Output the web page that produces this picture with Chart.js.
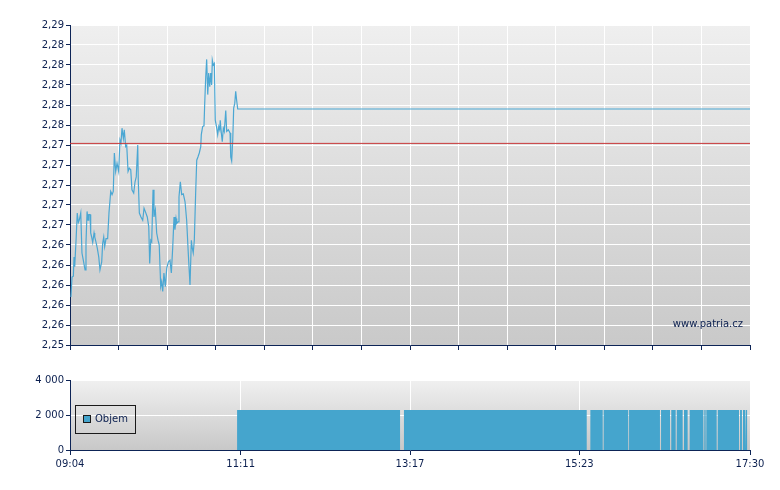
<!DOCTYPE html>
<html>
<head>
<meta charset="utf-8">
<script src="https://cdn.jsdelivr.net/npm/chart.js@4.4.1/dist/chart.umd.min.js"></script>
<style>
  body { margin: 0; background: #fff; width: 780px; height: 490px; position: relative; overflow: hidden; }
  #priceWrap { position: absolute; left: 0; top: 0; width: 780px; height: 360px; }
  #volWrap { position: absolute; left: 0; top: 360px; width: 780px; height: 130px; }
  .legend { position: absolute; left: 75px; top: 405px; width: 59px; height: 27px; border: 1px solid #1a1a1a;
            font: 10px "DejaVu Sans", sans-serif; color: #0b1f4f; }
  .legend i { position: absolute; left: 7px; top: 9px; width: 6px; height: 6px; background: #45a5cd; border: 1px solid #1a1a1a; }
  .legend span { position: absolute; left: 19px; top: 7px; }
</style>
</head>
<body>
<div id="priceWrap"><canvas id="priceChart"></canvas></div>
<div id="volWrap"><canvas id="volChart"></canvas></div>
<div class="legend"><i></i><span>Objem</span></div>
<script>
// minutes after 09:04
const priceMinutes = [
  0.7, 1.5, 2.5, 3.0, 3.5, 4.5, 5.4, 6.2, 6.9, 8.0,
  8.9, 9.9, 11.2, 11.9, 12.7, 13.4, 13.9, 14.9, 15.4, 16.1,
  16.9, 17.9, 18.4, 19.3, 20.3, 21.4, 22.3, 23.6, 24.3, 25.1,
  25.8, 26.8, 28.0, 29.0, 30.3, 31.3, 32.2, 33.0, 34.0, 35.0,
  36.2, 37.2, 37.9, 38.7, 39.7, 40.4, 41.4, 42.2, 43.2, 44.1,
  45.2, 46.1, 47.4, 48.4, 49.3, 50.4, 50.8, 51.6, 52.8, 54.1,
  55.1, 56.0, 57.5, 58.6, 59.3, 60.1, 60.8, 61.8, 62.5, 63.5,
  64.5, 65.5, 66.4, 67.5, 68.2, 69.0, 69.9, 70.9, 72.0, 73.2,
  74.4, 75.4, 76.4, 77.4, 78.1, 78.9, 79.4, 80.4, 81.1, 82.1,
  83.1, 84.3, 85.6, 86.8, 88.0, 89.3, 90.3, 91.0, 91.7, 92.5,
  93.5, 94.3, 95.2, 96.2, 97.3, 97.7, 98.7, 99.7, 100.2, 101.0,
  101.7, 102.5, 103.2, 104.0, 104.7, 105.4, 105.9, 106.6, 107.4, 108.1,
  109.2, 109.9, 110.7, 111.4, 111.8, 112.6, 113.3, 114.1, 114.8, 115.9,
  116.6, 117.8, 119.1, 119.6, 120.3, 121.1, 121.8, 122.6, 123.3, 124.0,
  124.8, 506
];
const priceValues = [
  2.2560, 2.2585, 2.2586, 2.2610, 2.2598, 2.2631, 2.2665, 2.2653, 2.2656, 2.2665,
  2.2615, 2.2606, 2.2594, 2.2628, 2.2667, 2.2656, 2.2663, 2.2663, 2.2640, 2.2635,
  2.2628, 2.2640, 2.2635, 2.2629, 2.2621, 2.2610, 2.2594, 2.2604, 2.2627, 2.2635,
  2.2623, 2.2633, 2.2633, 2.2665, 2.2692, 2.2688, 2.2692, 2.2740, 2.2717, 2.2727,
  2.2717, 2.2756, 2.2752, 2.2771, 2.2758, 2.2769, 2.2748, 2.2750, 2.2717, 2.2721,
  2.2719, 2.2694, 2.2690, 2.2704, 2.2710, 2.2750, 2.2706, 2.2665, 2.2660, 2.2656,
  2.2671, 2.2667, 2.2660, 2.2648, 2.2602, 2.2631, 2.2629, 2.2694, 2.2660, 2.2669,
  2.2640, 2.2631, 2.2625, 2.2573, 2.2579, 2.2567, 2.2590, 2.2573, 2.2596, 2.2604,
  2.2606, 2.2590, 2.2621, 2.2660, 2.2644, 2.2658, 2.2652, 2.2654, 2.2685, 2.2704,
  2.2688, 2.2689, 2.2679, 2.2656, 2.2615, 2.2575, 2.2631, 2.2621, 2.2615, 2.2631,
  2.2690, 2.2731, 2.2735, 2.2740, 2.2748, 2.2763, 2.2773, 2.2774, 2.2800, 2.2835,
  2.2857, 2.2813, 2.2840, 2.2823, 2.2840, 2.2825, 2.2856, 2.2850, 2.2852, 2.2781,
  2.2771, 2.2763, 2.2773, 2.2769, 2.2781, 2.2765, 2.2754, 2.2771, 2.2767, 2.2793,
  2.2767, 2.2769, 2.2765, 2.2735, 2.2730, 2.2756, 2.2796, 2.2802, 2.2817, 2.2806,
  2.2795, 2.2795
];
const prevClose = 2.2752;

const priceTicks = [2.29, 2.2875, 2.285, 2.2825, 2.28, 2.2775, 2.275, 2.2725, 2.27,
                    2.2675, 2.265, 2.2625, 2.26, 2.2575, 2.255, 2.2525, 2.25];
const priceTickLabels = ['2,29', '2,28', '2,28', '2,28', '2,28', '2,28', '2,27', '2,27', '2,27',
                         '2,27', '2,27', '2,26', '2,26', '2,26', '2,26', '2,26', '2,25'];

// volume blocks, minutes after 09:04
const volStart = [124.3, 248.5, 387.2, 397.1, 416.0, 439.8, 447.4, 451.5, 456.9, 461.1, 472.0, 473.5, 482.0, 498.6, 500.8, 503.0];
const volEnd   = [245.6, 384.5, 396.4, 415.4, 439.0, 446.5, 450.7, 455.9, 459.6, 471.3, 473.0, 481.2, 497.8, 500.0, 502.3, 504.0];
const volAmount = [2290, 2290, 2290, 2290, 2290, 2290, 2290, 2290, 2290, 2290, 2290, 2290, 2290, 2290, 2290, 2290];

const volTicks = [0, 2000, 4000];
const volTickLabels = ['0', '2 000', '4 000'];
const timeTicks = [0, 127, 253, 379, 506];
const timeLabels = ['09:04', '11:11', '13:17', '15:23', '17:30'];

const navy = '#0d2456';
Chart.defaults.font.family = '"DejaVu Sans", sans-serif';
Chart.defaults.font.size = 10;
Chart.defaults.color = '#0b1f4f';

const plotBg = {
  id: 'plotBg',
  beforeDraw(chart, args, opts) {
    const { ctx, chartArea: a } = chart;
    const g = ctx.createLinearGradient(0, a.top, 0, a.bottom);
    g.addColorStop(0, opts.top);
    g.addColorStop(1, opts.bottom);
    ctx.save();
    ctx.fillStyle = g;
    ctx.fillRect(a.left, a.top, a.right - a.left, a.bottom - a.top);
    ctx.restore();
  }
};

const watermark = {
  id: 'watermark',
  afterDraw(chart, args, opts) {
    if (!opts.text) return;
    const { ctx, chartArea: a } = chart;
    ctx.save();
    ctx.font = '10px "DejaVu Sans", sans-serif';
    ctx.fillStyle = '#0b1f4f';
    ctx.textAlign = 'right';
    ctx.textBaseline = 'middle';
    ctx.fillText(opts.text, a.right - 7, a.bottom - 21);
    ctx.restore();
  }
};

function axisStyle() {
  return {
    grid: { color: '#ffffff', lineWidth: 1, tickColor: navy, tickLength: 4 },
    border: { color: navy, width: 1 }
  };
}

new Chart(document.getElementById('priceChart'), {
  type: 'line',
  data: {
    datasets: [
      {
        data: [{ x: 0, y: prevClose }, { x: 506, y: prevClose }],
        borderColor: '#c8383a', borderWidth: 1, pointRadius: 0
      },
      {
        data: priceMinutes.map((m, i) => ({ x: m, y: priceValues[i] })),
        borderColor: '#4ba7d3', borderWidth: 1.2, pointRadius: 0, tension: 0
      }
    ]
  },
  options: {
    animation: false,
    responsive: true,
    maintainAspectRatio: false,
    devicePixelRatio: 1,
    layout: { padding: { top: 25, right: 30, left: 0, bottom: 0 } },
    plugins: {
      legend: { display: false },
      tooltip: { enabled: false },
      plotBg: { top: '#efefef', bottom: '#c9c9c9' },
      watermark: { text: 'www.patria.cz' }
    },
    scales: {
      x: {
        type: 'linear', min: 0, max: 506,
        ...axisStyle(),
        grid: { color: '#ffffff', tickColor: navy, tickLength: 5 },
        ticks: { display: false },
        afterBuildTicks: s => { s.ticks = Array.from({ length: 15 }, (_, i) => ({ value: i * 506 / 14 })); },
        afterFit: s => { s.height = 15; }
      },
      y: {
        min: 2.25, max: 2.29,
        ...axisStyle(),
        ticks: { padding: 2, callback: (v, i) => priceTickLabels[i] },
        afterBuildTicks: s => { s.ticks = priceTicks.map(v => ({ value: v })); },
        afterFit: s => { s.width = 70; }
      }
    }
  },
  plugins: [plotBg, watermark]
});

const volPoints = [];
volStart.forEach((s, i) => {
  volPoints.push({ x: s, y: 0 }, { x: s, y: volAmount[i] }, { x: volEnd[i], y: volAmount[i] }, { x: volEnd[i], y: 0 });
});

new Chart(document.getElementById('volChart'), {
  type: 'line',
  data: {
    datasets: [{
      label: 'Objem',
      data: volPoints,
      borderWidth: 0, pointRadius: 0, tension: 0,
      fill: 'origin', backgroundColor: '#45a5cd', borderColor: '#45a5cd'
    }]
  },
  options: {
    animation: false,
    responsive: true,
    maintainAspectRatio: false,
    devicePixelRatio: 1,
    layout: { padding: { top: 20, right: 30, left: 0, bottom: 0 } },
    plugins: {
      legend: { display: false },
      tooltip: { enabled: false },
      plotBg: { top: '#f0f0f0', bottom: '#c8c8c8' }
    },
    scales: {
      x: {
        type: 'linear', min: 0, max: 506,
        ...axisStyle(),
        grid: { color: '#ffffff', tickColor: navy, tickLength: 5 },
        ticks: { padding: 3, maxRotation: 0, callback: (v, i) => timeLabels[i] },
        afterBuildTicks: s => { s.ticks = timeTicks.map(v => ({ value: v })); },
        afterFit: s => { s.height = 40; }
      },
      y: {
        min: 0, max: 4000,
        ...axisStyle(),
        ticks: { padding: 2, callback: (v, i) => volTickLabels[i] },
        afterBuildTicks: s => { s.ticks = volTicks.map(v => ({ value: v })); },
        afterFit: s => { s.width = 70; }
      }
    }
  },
  plugins: [plotBg]
});
</script>
</body>
</html>
